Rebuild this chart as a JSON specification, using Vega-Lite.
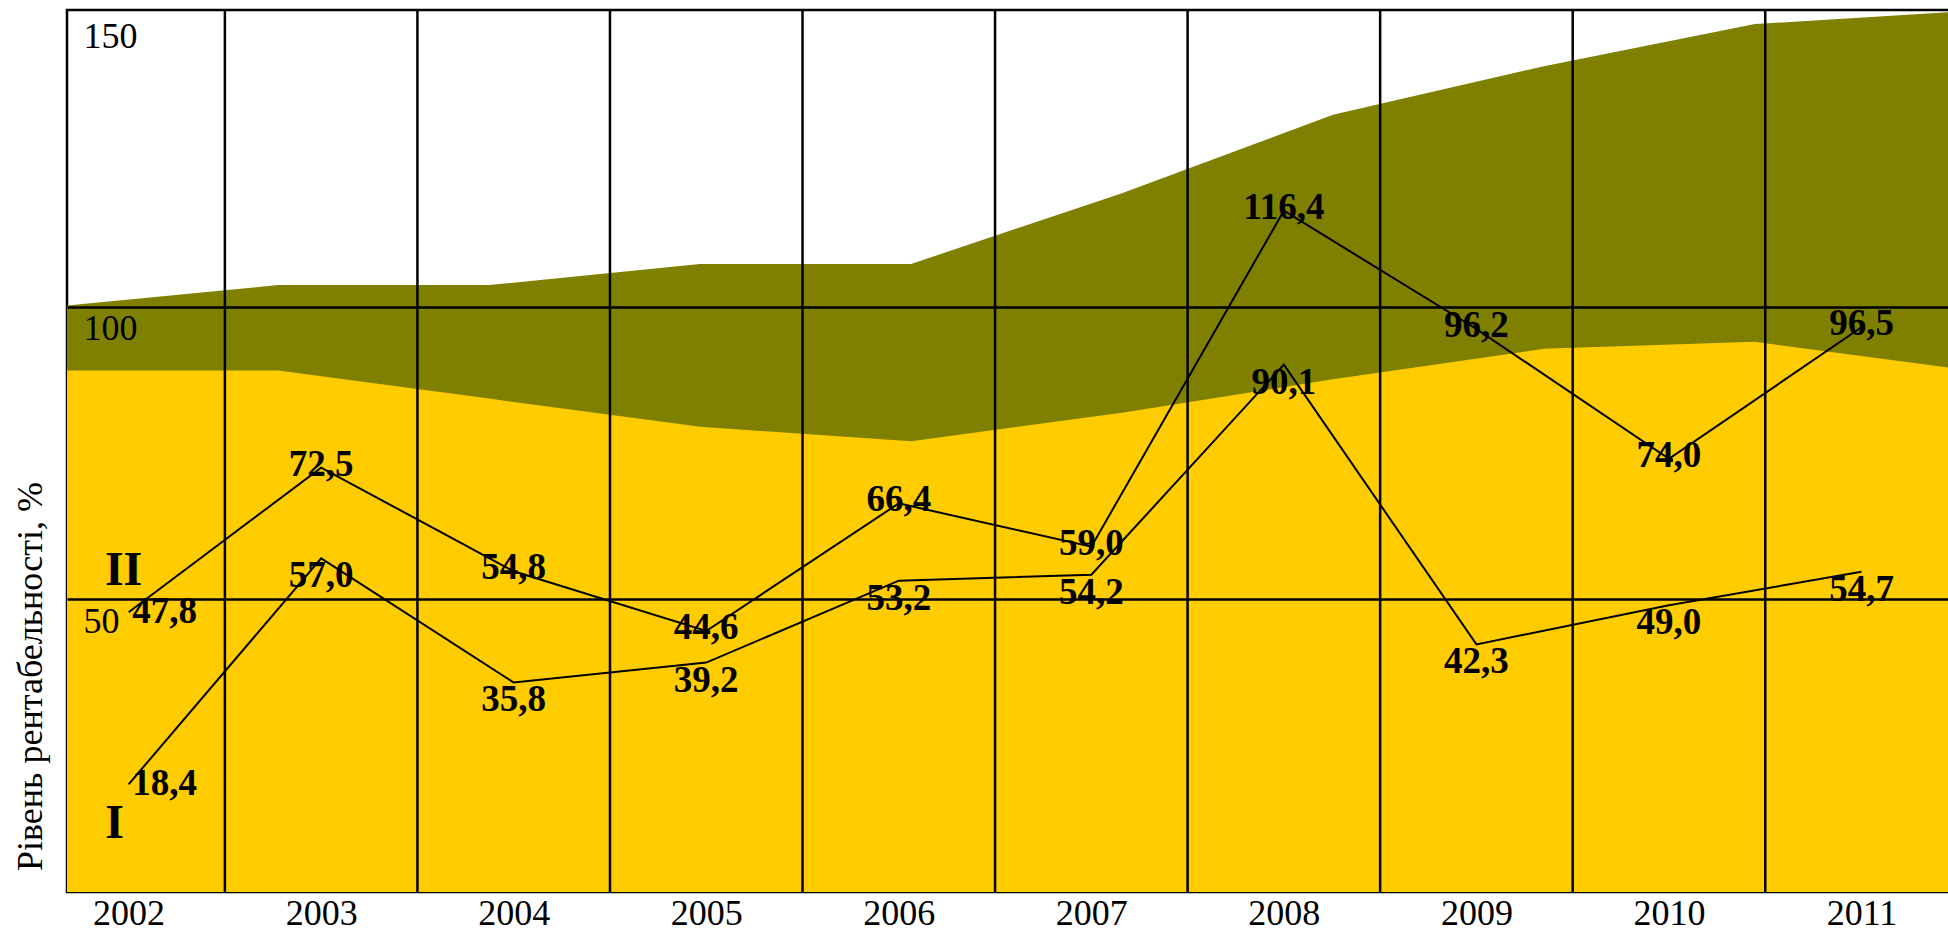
{
  "$schema": "https://vega.github.io/schema/vega-lite/v6.json",
  "width": 1885,
  "height": 882,
  "autosize": "none",
  "padding": {"left": 67, "top": 10, "right": 0, "bottom": 39},
  "background": "white",
  "config": {
    "view": {"stroke": "black", "strokeWidth": 2.5},
    "locale": {"number": {"decimal": ",", "thousands": " ", "grouping": [3], "currency": ["", ""]}}
  },
  "datasets": {
    "bands": [
      {"year": 2002, "upper": 100.2, "lower": 89.1},
      {"year": 2003, "upper": 103.7, "lower": 89.1},
      {"year": 2004, "upper": 103.7, "lower": 84.3},
      {"year": 2005, "upper": 107.3, "lower": 79.5},
      {"year": 2006, "upper": 107.3, "lower": 77.0},
      {"year": 2007, "upper": 119.4, "lower": 81.9},
      {"year": 2008, "upper": 132.8, "lower": 87.6},
      {"year": 2009, "upper": 141.1, "lower": 92.8},
      {"year": 2010, "upper": 148.3, "lower": 94.0},
      {"year": 2011, "upper": 150.5, "lower": 89.2}
    ],
    "lines": [
      {"year": 2002, "series": "I", "value": 18.4},
      {"year": 2003, "series": "I", "value": 57.0},
      {"year": 2004, "series": "I", "value": 35.8},
      {"year": 2005, "series": "I", "value": 39.2},
      {"year": 2006, "series": "I", "value": 53.2},
      {"year": 2007, "series": "I", "value": 54.2},
      {"year": 2008, "series": "I", "value": 90.1},
      {"year": 2009, "series": "I", "value": 42.3},
      {"year": 2010, "series": "I", "value": 49.0},
      {"year": 2011, "series": "I", "value": 54.7},
      {"year": 2002, "series": "II", "value": 47.8},
      {"year": 2003, "series": "II", "value": 72.5},
      {"year": 2004, "series": "II", "value": 54.8},
      {"year": 2005, "series": "II", "value": 44.6},
      {"year": 2006, "series": "II", "value": 66.4},
      {"year": 2007, "series": "II", "value": 59.0},
      {"year": 2008, "series": "II", "value": 116.4},
      {"year": 2009, "series": "II", "value": 96.2},
      {"year": 2010, "series": "II", "value": 74.0},
      {"year": 2011, "series": "II", "value": 96.5}
    ],
    "bounds": [
      {"edge": 2002.5}, {"edge": 2003.5}, {"edge": 2004.5}, {"edge": 2005.5},
      {"edge": 2006.5}, {"edge": 2007.5}, {"edge": 2008.5}, {"edge": 2009.5}, {"edge": 2010.5}
    ]
  },
  "layer": [
    {
      "data": {"name": "bands"},
      "encoding": {
        "x": {"field": "year", "type": "quantitative", "scale": {"domain": [2002, 2010.934], "nice": false, "zero": false}, "axis": null}
      },
      "layer": [
        {
          "mark": {"type": "area", "color": "#808000", "clip": true},
          "encoding": {
            "y": {"field": "upper", "type": "quantitative", "scale": {"domain": [0, 150.7], "nice": false},
              "axis": {"values": [50, 100, 150], "title": "Рівень рентабельності, %", "grid": true, "gridColor": "black", "gridWidth": 2.5,
                "gridOpacity": {"condition": {"test": "datum.value >= 150", "value": 0}, "value": 1},
                "ticks": false, "domain": false, "labelAlign": "left", "labelBaseline": "top", "labelPadding": -16, "labelOffset": 5,
                "labelFont": "Liberation Serif", "labelFontSize": 36, "labelColor": "black", "labelFlush": false, "labelOverlap": false,
                "titleFont": "Liberation Serif", "titleFontSize": 36, "titleFontWeight": "normal", "titleColor": "black",
                "titleAngle": -90, "titleX": -37, "titleY": 666, "titleAlign": "center", "titleBaseline": "middle", "zindex": 1}}
          }
        },
        {
          "mark": {"type": "area", "color": "#FFCC00", "clip": true},
          "encoding": {
            "y": {"field": "lower", "type": "quantitative"}
          }
        }
      ]
    },
    {
      "layer": [
        {
          "data": {"name": "bounds"},
          "mark": {"type": "rule", "color": "black", "strokeWidth": 2.5},
          "encoding": {
            "x": {"field": "edge", "type": "quantitative", "scale": {"domain": [2001.68, 2011.47], "nice": false, "zero": false},
              "axis": {"values": [2002, 2003, 2004, 2005, 2006, 2007, 2008, 2009, 2010, 2011], "format": "d", "title": null, "grid": false, "ticks": false, "domain": false,
                "labelFont": "Liberation Serif", "labelFontSize": 36, "labelColor": "black", "labelPadding": 4, "labelFlush": false, "labelOverlap": false}}
          }
        },
        {
          "data": {"name": "lines"},
          "mark": {"type": "line", "color": "black", "strokeWidth": 2},
          "encoding": {
            "x": {"field": "year", "type": "quantitative"},
            "y": {"field": "value", "type": "quantitative"},
            "detail": {"field": "series", "type": "nominal"}
          }
        },
        {
          "data": {"name": "lines"},
          "transform": [{"filter": "datum.series === 'I' && datum.year > 2002"}],
          "mark": {"type": "text", "font": "Liberation Serif", "fontWeight": "bold", "fontSize": 37, "color": "black", "align": "center", "baseline": "middle", "dy": 18},
          "encoding": {
            "x": {"field": "year", "type": "quantitative"},
            "y": {"field": "value", "type": "quantitative"},
            "text": {"field": "value", "type": "quantitative", "format": ".1f"}
          }
        },
        {
          "data": {"name": "lines"},
          "transform": [{"filter": "datum.series === 'II' && datum.year > 2002"}],
          "mark": {"type": "text", "font": "Liberation Serif", "fontWeight": "bold", "fontSize": 37, "color": "black", "align": "center", "baseline": "middle", "dy": -3},
          "encoding": {
            "x": {"field": "year", "type": "quantitative"},
            "y": {"field": "value", "type": "quantitative"},
            "text": {"field": "value", "type": "quantitative", "format": ".1f"}
          }
        },
        {
          "data": {"name": "lines"},
          "transform": [{"filter": "datum.year === 2002"}],
          "mark": {"type": "text", "font": "Liberation Serif", "fontWeight": "bold", "fontSize": 37, "color": "black", "align": "center", "baseline": "middle", "dx": 36, "dy": 0},
          "encoding": {
            "x": {"field": "year", "type": "quantitative"},
            "y": {"field": "value", "type": "quantitative"},
            "text": {"field": "value", "type": "quantitative", "format": ".1f"}
          }
        },
        {
          "data": {"name": "lines"},
          "transform": [{"filter": "datum.year === 2002 && datum.series === 'II'"}],
          "mark": {"type": "text", "font": "Liberation Serif", "fontWeight": "bold", "fontSize": 48, "color": "black", "align": "center", "baseline": "middle", "dx": -5, "dy": -41},
          "encoding": {
            "x": {"field": "year", "type": "quantitative"},
            "y": {"field": "value", "type": "quantitative"},
            "text": {"field": "series", "type": "nominal"}
          }
        },
        {
          "data": {"name": "lines"},
          "transform": [{"filter": "datum.year === 2002 && datum.series === 'I'"}],
          "mark": {"type": "text", "font": "Liberation Serif", "fontWeight": "bold", "fontSize": 48, "color": "black", "align": "center", "baseline": "middle", "dx": -14, "dy": 40},
          "encoding": {
            "x": {"field": "year", "type": "quantitative"},
            "y": {"field": "value", "type": "quantitative"},
            "text": {"field": "series", "type": "nominal"}
          }
        }
      ]
    }
  ],
  "resolve": {"scale": {"x": "independent"}}
}
